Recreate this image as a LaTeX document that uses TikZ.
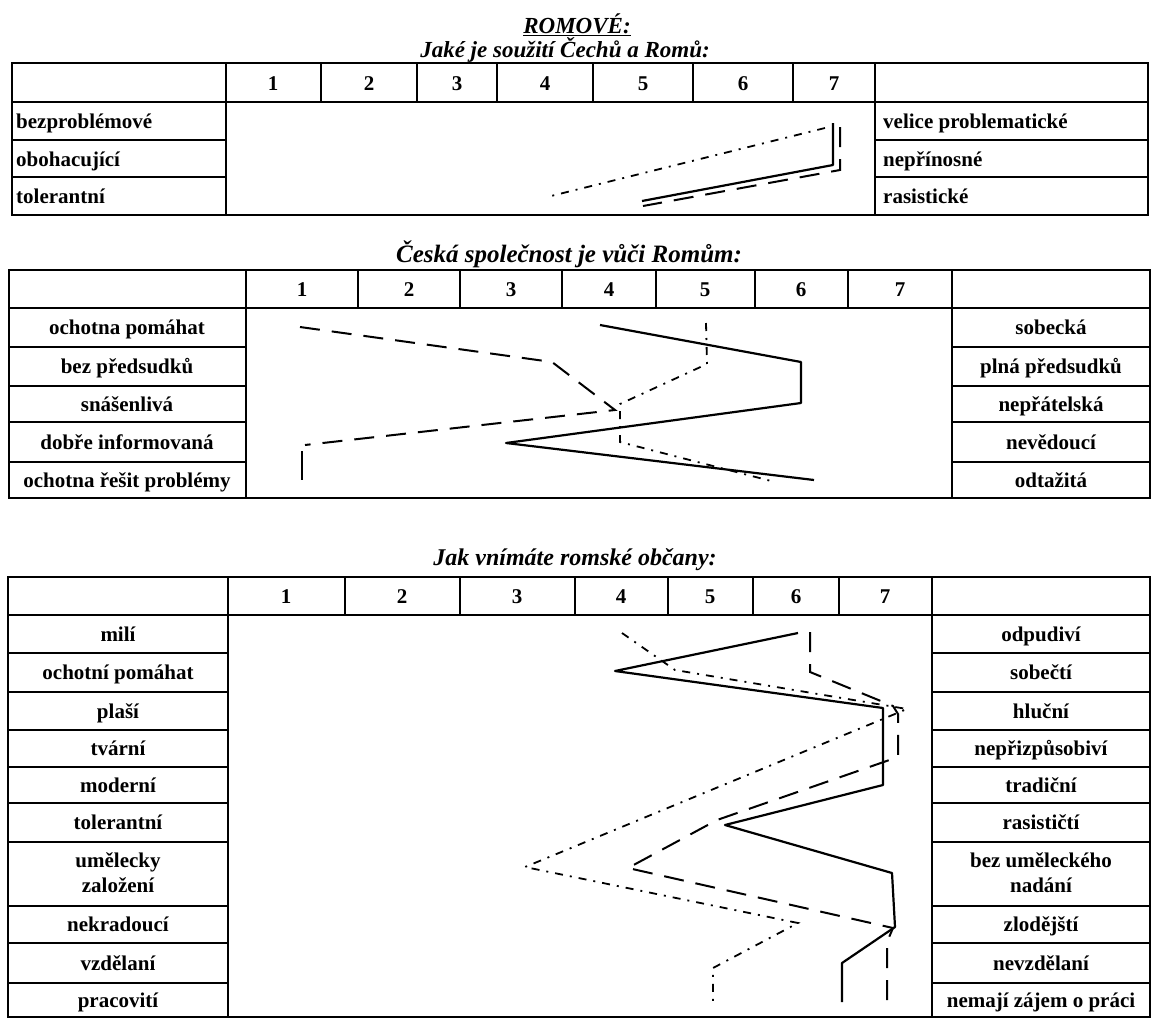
\documentclass[tikz,border=0pt]{standalone}
\usepackage{fontspec}
\setmainfont{Liberation Serif}
\begin{document}
\begin{tikzpicture}[x=1pt,y=-1pt,
    lbl/.style={font=\fontsize{21}{25}\selectfont\bfseries, inner sep=0pt,
        align=center, yshift=-2pt, execute at begin node=\strut},
    ttl/.style={font=\bfseries\itshape, inner sep=0pt, anchor=base},
    grid/.style={line width=1.3pt},
    ans/.style={line width=2.2pt, line join=round},
    ansdash/.style={line width=2pt, dash pattern=on 20pt off 12pt},
    ansdot/.style={line width=1.8pt, dash pattern=on 8pt off 7pt on 2pt off 7pt}]
\useasboundingbox (0,0) rectangle (1151,1018);

% titles
\node[ttl, font=\fontsize{23}{25}\selectfont\bfseries\itshape] (romove) at (577,33) {\underline{ROMOVÉ:}};
\node[ttl, font=\fontsize{23}{25}\selectfont\bfseries\itshape] (q1) at (565,57) {Jaké je soužití Čechů a Romů:};
\node[ttl, font=\fontsize{25}{27}\selectfont\bfseries\itshape] (q2) at (569,262) {Česká společnost je vůči Romům:};
\node[ttl, font=\fontsize{24}{26}\selectfont\bfseries\itshape] (q3) at (575,565) {Jak vnímáte romské občany:};

% table 1
\draw[grid] (12,63) rectangle (1148,215);
\draw[grid] (12,102) -- (1148,102);
\draw[grid] (226,63) -- (226,215);
\draw[grid] (875,63) -- (875,215);
\foreach \x in {321,417,497,593,693,793}
    \draw[grid] (\x,63) -- (\x,102);
\foreach \y in {140,177} {
    \draw[grid] (12,\y) -- (226,\y);
    \draw[grid] (875,\y) -- (1148,\y);
}
\foreach \n/\x in {1/273,2/369,3/457,4/545,5/643,6/743,7/834}
    \node[lbl] (a\n) at (\x,83) {\n};
\node[lbl, anchor=west] (a-l1) at (16,121) {bezproblémové};
\node[lbl, anchor=west] (a-l2) at (16,159) {obohacující};
\node[lbl, anchor=west] (a-l3) at (16,196) {tolerantní};
\node[lbl, anchor=west] (a-r1) at (883,121) {velice problematické};
\node[lbl, anchor=west] (a-r2) at (883,159) {nepřínosné};
\node[lbl, anchor=west] (a-r3) at (883,196) {rasistické};

\draw[ans] (833,123) -- (833,165) -- (642,201);
\draw[ansdash] (840,127) -- (840,170) -- (643,206);
\draw[ansdot] (825,128) -- (547,197);

% table 2
\draw[grid] (9,270) rectangle (1150,498);
\draw[grid] (9,308) -- (1150,308);
\draw[grid] (246,270) -- (246,498);
\draw[grid] (952,270) -- (952,498);
\foreach \x in {358,460,562,656,755,848}
    \draw[grid] (\x,270) -- (\x,308);
\foreach \y in {347,386,422,462} {
    \draw[grid] (9,\y) -- (246,\y);
    \draw[grid] (952,\y) -- (1150,\y);
}
\foreach \n/\x in {1/302,2/409,3/511,4/609,5/705,6/801,7/900}
    \node[lbl] (b\n) at (\x,289) {\n};
\foreach \i/\y/\l/\r in {1/327/ochotna pomáhat/sobecká,
                         2/366/bez předsudků/plná předsudků,
                         3/404/snášenlivá/nepřátelská,
                         4/442/dobře informovaná/nevědoucí,
                         5/480/ochotna řešit problémy/odtažitá} {
    \node[lbl] (b-l\i) at (127,\y) {\l};
    \node[lbl] (b-r\i) at (1051,\y) {\r};
}

\draw[ans] (600,325) -- (801,362) -- (801,403) -- (506,443) -- (814,480);
\draw[ansdash] (300,327) -- (552,362) -- (615,410) -- (305,445);
\draw[ansdash, dash pattern=on 29pt off 4pt] (302,451) -- (302,480);
\draw[ansdot] (706,323) -- (707,364) -- (620,404) -- (620,442) -- (775,482);

% table 3
\draw[grid] (8,577) rectangle (1150,1017);
\draw[grid] (8,615) -- (1150,615);
\draw[grid] (228,577) -- (228,1017);
\draw[grid] (932,577) -- (932,1017);
\foreach \x in {345,460,575,668,753,839}
    \draw[grid] (\x,577) -- (\x,615);
\foreach \y in {653,692,730,767,803,842,906,943,983} {
    \draw[grid] (8,\y) -- (228,\y);
    \draw[grid] (932,\y) -- (1150,\y);
}
\foreach \n/\x in {1/286,2/402,3/517,4/621,5/710,6/796,7/885}
    \node[lbl] (c\n) at (\x,596) {\n};
\foreach \i/\y/\l/\r in {1/634/milí/odpudiví,
                         2/672/ochotní pomáhat/sobečtí,
                         3/711/plaší/hluční,
                         4/748/tvární/nepřizpůsobiví,
                         5/785/moderní/tradiční,
                         6/822/tolerantní/rasističtí,
                         7/874/umělecky\\\strut založení/bez uměleckého\\\strut nadání,
                         8/924/nekradoucí/zlodějští,
                         9/963/vzdělaní/nevzdělaní,
                         10/1000/pracovití/nemají zájem o práci} {
    \node[lbl] (c-l\i) at (118,\y) {\l};
    \node[lbl] (c-r\i) at (1041,\y) {\r};
}

\draw[ans] (798,633) -- (615,671) -- (883,708) -- (883,785) -- (725,825)
    -- (892,873) -- (895,927) -- (842,963) -- (842,1002);
\draw[ansdash] (810,632) -- (810,672) -- (893,706) -- (898,714) -- (898,757)
    -- (717,820) -- (628,868) -- (893,928) -- (887,942) -- (887,1007);
\draw[ansdot] (622,633) -- (675,670) -- (907,709) -- (525,867) -- (798,923)
    -- (713,968) -- (713,1005);
\end{tikzpicture}
\end{document}
